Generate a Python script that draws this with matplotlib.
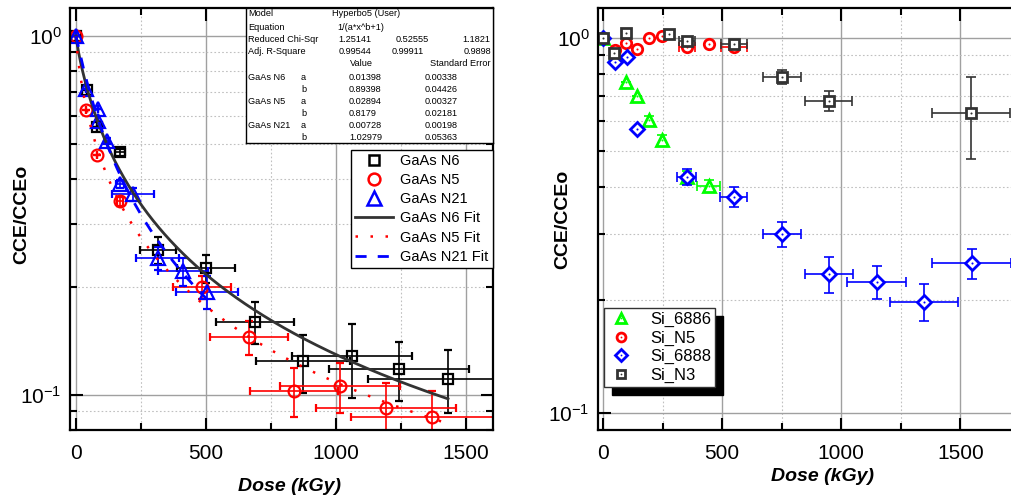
import matplotlib
matplotlib.use('Agg')
import matplotlib.pyplot as plt
import numpy as np
from matplotlib.ticker import LogLocator, NullFormatter, MultipleLocator
from matplotlib.lines import Line2D

plt.rcParams['font.family'] = ['Liberation Sans', 'DejaVu Sans']
plt.rcParams['mathtext.fontset'] = 'custom'
plt.rcParams['mathtext.rm'] = 'Liberation Sans'
plt.rcParams['mathtext.it'] = 'Liberation Sans:italic'
plt.rcParams['mathtext.bf'] = 'Liberation Sans:bold'
plt.rcParams['axes.unicode_minus'] = False

# ---- left panel: GaAs ----
n6_x = [0, 42, 81, 169, 316, 500, 688, 873, 1061, 1243, 1431]
n6_y = [1.0, 0.706, 0.557, 0.474, 0.254, 0.225, 0.160, 0.124, 0.128, 0.118, 0.111]
n6_xerr = [0, 0, 0, 20, 70, 112, 150, 180, 231, 270, 308]
n6_yerr = [0, 0, 0, 0.01, 0.022, 0.020, 0.021, 0.023, 0.030, 0.022, 0.022]

n5_x = [0, 38, 81, 169, 485, 665, 838, 1015, 1192, 1369]
n5_y = [1.0, 0.621, 0.465, 0.346, 0.200, 0.145, 0.1026, 0.106, 0.092, 0.0868]
n5_xerr = [0, 0, 0, 10, 112, 150, 170, 230, 270, 310]
n5_yerr = [0, 0, 0, 0.01, 0.015, 0.016, 0.016, 0.017, 0.016, 0.016]

n21_x = [0, 38, 85, 85, 119, 169, 219, 315, 412, 504]
n21_y = [1.0, 0.711, 0.625, 0.579, 0.509, 0.386, 0.362, 0.241, 0.221, 0.194]
n21_xerr = [0, 0, 0, 0, 8, 15, 80, 83, 95, 120]
n21_yerr = [0, 0, 0, 0, 0.01, 0.01, 0.015, 0.018, 0.02, 0.021]

# fit parameters 1/(a*x^b+1)
fit_a = {'N6': 0.01398, 'N5': 0.02894, 'N21': 0.00728}
fit_b = {'N6': 0.89398, 'N5': 0.8179, 'N21': 1.02979}
fit_xmax = {'N6': 1431, 'N5': 1430, 'N21': 500}

# ---- right panel: Si ----
si6886_x = [0, 50, 96, 143, 193, 247, 352, 444]
si6886_y = [1.0, 0.90, 0.763, 0.700, 0.604, 0.535, 0.426, 0.403]
si6886_xerr = [0, 0, 0, 0, 0, 0, 10, 48]
si6886_yerr = [0, 0, 0, 0, 0.015, 0.015, 0.015, 0.015]

sin5_x = [0, 50, 96, 143, 193, 247, 352, 444, 549]
sin5_y = [1.0, 0.929, 0.97, 0.935, 1.0, 1.01, 0.946, 0.964, 0.946]
sin5_xerr = [0, 0, 0, 0, 0, 0, 34, 0, 55]
sin5_yerr = [0, 0, 0, 0, 0, 0, 0.02, 0, 0.02]

si6888_x = [0, 50, 100, 143, 352, 549, 751, 948, 1149, 1346, 1547]
si6888_y = [1.0, 0.863, 0.89, 0.572, 0.426, 0.377, 0.300, 0.235, 0.224, 0.198, 0.251]
si6888_xerr = [0, 0, 0, 0, 40, 57, 80, 100, 124, 143, 166]
si6888_yerr = [0, 0, 0, 0, 0.02, 0.024, 0.023, 0.026, 0.023, 0.022, 0.023]

sin3_x = [0, 46, 96, 277, 352, 549, 751, 948, 1543]
sin3_y = [1.0, 0.912, 1.03, 1.025, 0.98, 0.964, 0.787, 0.679, 0.631]
sin3_xerr = [0, 0, 0, 0, 34, 55, 80, 99, 164]
sin3_yerr = [0, 0, 0, 0, 0.02, 0.02, 0.035, 0.043, 0.155]

fig = plt.figure(figsize=(10.11, 4.99), dpi=100)
axL = fig.add_axes([70 / 1011, 1 - 430 / 499, 423 / 1011, 422 / 499])
axR = fig.add_axes([598 / 1011, 1 - 430 / 499, 425 / 1011, 422 / 499])


def style_axis(ax, xlim, ylim):
    ax.set_yscale('log')
    ax.set_xlim(*xlim)
    ax.set_ylim(*ylim)
    ax.xaxis.set_major_locator(MultipleLocator(500))
    ax.xaxis.set_minor_locator(MultipleLocator(250))
    ax.yaxis.set_major_locator(LogLocator(base=10))
    ax.yaxis.set_minor_locator(LogLocator(base=10, subs=np.arange(2, 10)))
    ax.yaxis.set_minor_formatter(NullFormatter())
    ax.grid(which='major', color='#a0a0a0', lw=1.0, ls='-')
    ax.grid(which='minor', color='#c0c0c0', lw=0.8, ls=(0, (1.5, 2)))
    ax.set_axisbelow(True)
    ax.tick_params(which='both', direction='in', top=True, right=True, width=1.5)
    ax.tick_params(which='major', length=9, labelsize=15)
    ax.tick_params(which='minor', length=5)
    ax.tick_params(axis='x', pad=10)
    ax.tick_params(axis='y', pad=6)
    for s in ax.spines.values():
        s.set_linewidth(1.6)
    ax.set_xlabel('Dose (kGy)', fontsize=14, fontweight='bold', fontstyle='italic', va='center')
    ax.set_ylabel('CCE/CCEo', fontsize=14, fontweight='bold', va='center')


style_axis(axL, (-23, 1604), (0.0798, 1.197))
style_axis(axR, (-21, 1763), (0.0901, 1.2))
axL.xaxis.set_label_coords(0.52, -0.135)
axL.yaxis.set_label_coords(-0.115, 0.51)
axR.xaxis.set_label_coords(0.528, -0.111)
axR.yaxis.set_label_coords(-0.082, 0.5)

# left data
left_sets = [
    (n6_x, n6_y, n6_xerr, n6_yerr, 's', 6.5, 'black', 'GaAs N6'),
    (n5_x, n5_y, n5_xerr, n5_yerr, 'o', 8.5, 'red', 'GaAs N5'),
    (n21_x, n21_y, n21_xerr, n21_yerr, '^', 9.5, 'blue', 'GaAs N21'),
]
handles = []
for x, y, xe, ye, m, ms, c, lab in left_sets:
    axL.errorbar(x, y, xerr=xe, yerr=ye, fmt=m, ms=ms, mfc='none', mec=c, mew=1.6,
                 ecolor=c, elinewidth=1.2, capsize=3, capthick=1.2)
    handles.append(Line2D([], [], ls='none', marker=m, ms=ms, mfc='none', mec=c,
                          mew=1.8, label=lab))

fit_styles = {'N6': ('#333333', '-', 2.0), 'N5': ('red', (0, (1, 5)), 1.8),
              'N21': ('blue', (0, (4, 4)), 2.0)}
for key in ['N6', 'N5', 'N21']:
    xx = np.linspace(0, fit_xmax[key], 400)
    yy = 1 / (fit_a[key] * xx ** fit_b[key] + 1)
    col, ls, lw = fit_styles[key]
    h, = axL.plot(xx, yy, color=col, ls=ls, lw=lw, label='GaAs ' + key + ' Fit', zorder=4)
    handles.append(h)

legL = axL.legend(handles=handles, loc='upper right', bbox_to_anchor=(1.0, 0.664),
                  borderaxespad=0, fontsize=10.5, frameon=True, fancybox=False,
                  edgecolor='black', framealpha=1, labelspacing=0.35, handlelength=2.6,
                  handletextpad=0.5, borderpad=0.3)
legL.get_frame().set_linewidth(1.0)
legL.set_zorder(10)

# parameter table
axT = fig.add_axes([246 / 1011, 1 - 143 / 499, 247 / 1011, 135 / 499])
axT.set_xlim(246, 493)
axT.set_ylim(143, 8)
axT.set_xticks([])
axT.set_yticks([])
for s in axT.spines.values():
    s.set_linewidth(1.0)
rows = [
    (14, [('Model', 248, 'left'), ('Hyperbo5 (User)', 332, 'left')]),
    (27, [('Equation', 248, 'left'), ('1/(a*x^b+1)', 337, 'left')]),
    (39.5, [('Reduced Chi-Sqr', 248, 'left'), ('1.25141', 338, 'left'), ('0.52555', 396, 'left'), ('1.1821', 490, 'right')]),
    (52, [('Adj. R-Square', 248, 'left'), ('0.99544', 339, 'left'), ('0.99911', 392, 'left'), ('0.9898', 491, 'right')]),
    (64, [('Value', 350, 'left'), ('Standard Error', 491, 'right')]),
    (77, [('GaAs N6', 248, 'left'), ('a', 301, 'left'), ('0.01398', 349, 'left'), ('0.00338', 425, 'left')]),
    (89, [('b', 301, 'left'), ('0.89398', 349, 'left'), ('0.04426', 425, 'left')]),
    (101, [('GaAs N5', 248, 'left'), ('a', 301, 'left'), ('0.02894', 349, 'left'), ('0.00327', 425, 'left')]),
    (113, [('b', 301, 'left'), ('0.8179', 349, 'left'), ('0.02181', 425, 'left')]),
    (126, [('GaAs N21', 248, 'left'), ('a', 301, 'left'), ('0.00728', 349, 'left'), ('0.00198', 425, 'left')]),
    (138, [('b', 301, 'left'), ('1.02979', 349, 'left'), ('0.05363', 425, 'left')]),
]
for yy, items in rows:
    for txt, xx, ha in items:
        axT.text(xx, yy, txt, fontsize=6.6, ha=ha, va='center', clip_on=True)

# right data
right_sets = [
    (si6886_x, si6886_y, si6886_xerr, si6886_yerr, '^', 8, '#00ff00', 'Si_6886'),
    (sin5_x, sin5_y, sin5_xerr, sin5_yerr, 'o', 7.5, 'red', 'Si_N5'),
    (si6888_x, si6888_y, si6888_xerr, si6888_yerr, 'D', 7.5, 'blue', 'Si_6888'),
    (sin3_x, sin3_y, sin3_xerr, sin3_yerr, 's', 6.5, '#333333', 'Si_N3'),
]
rh = []
rl = []
for x, y, xe, ye, m, ms, c, lab in right_sets:
    axR.errorbar(x, y, xerr=xe, yerr=ye, fmt='none', ecolor=c, elinewidth=1.2,
                 capsize=3.5, capthick=1.2)
    h, = axR.plot(x, y, ls='none', marker=m, ms=ms, mfc='white', mec=c, mew=2)
    d, = axR.plot(x, y, ls='none', marker='o', ms=1.5, color=c, mew=0)
    rh.append((h, d))
    rl.append(lab)

legR = axR.legend(rh, rl, loc='lower left', bbox_to_anchor=(0.014, 0.102),
                  borderaxespad=0, fontsize=12, frameon=True, fancybox=False,
                  edgecolor='#333333', framealpha=1, labelspacing=0.2, handlelength=1.6,
                  handletextpad=0.9, borderpad=0.25, markerscale=0.85,
                  shadow={'ox': 5.5, 'oy': -5.5, 'color': 'black', 'alpha': 1})
legR.get_frame().set_linewidth(1.0)

fig.savefig('out.png', dpi=100)
